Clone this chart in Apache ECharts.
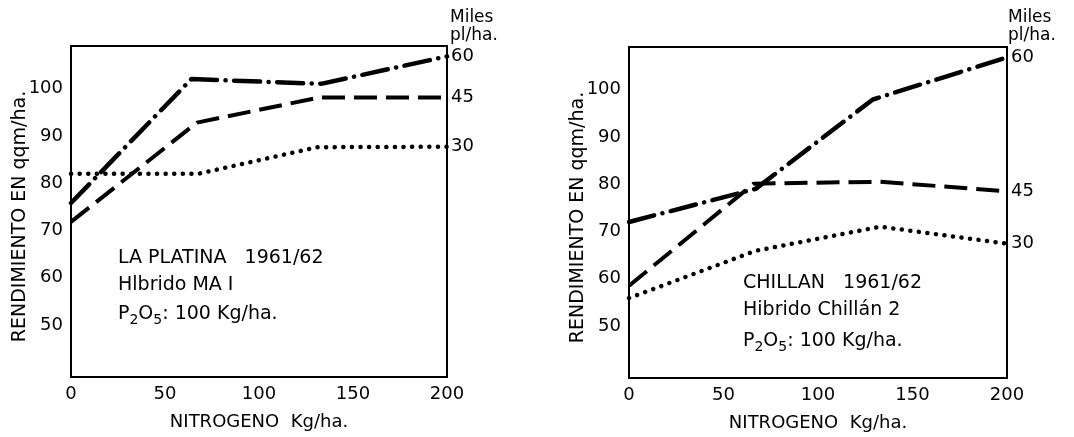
<!DOCTYPE html>
<html>
<head>
<meta charset="utf-8">
<script src="https://cdn.jsdelivr.net/npm/echarts@6/dist/echarts.min.js"></script>
<style>
  html, body { margin: 0; padding: 0; background: #fff; }
  #chart { width: 1074px; height: 437px; }
</style>
</head>
<body>
<div id="chart"></div>
<script>
// ---- data ----
const nitrogenTicks = [0, 50, 100, 150, 200];
const yieldTicks = [50, 60, 70, 80, 90, 100];
const densityNames = ['60', '45', '30'];

// La Platina 1961/62 — [N kg/ha, yield qqm/ha]
const platina60 = [[0, 75.8], [64, 102.0], [133, 101.0], [200, 106.8]];
const platina45 = [[0, 71.8], [67, 92.8], [132, 98.1], [200, 98.1]];
const platina30 = [[0, 82.0], [68, 82.0], [131, 87.6], [200, 87.7]];

// Chillán 1961/62
const chillan60 = [[0, 72.0], [67, 79.0], [129, 97.9], [200, 106.8]];
const chillan45 = [[0, 58.5], [66, 80.1], [133, 80.5], [200, 78.5]];
const chillan30 = [[0, 55.9], [67, 65.9], [133, 71.0], [200, 67.4]];

const yAxisName = 'RENDIMIENTO EN qqm/ha.';
const xAxisName = 'NITROGENO  Kg/ha.';
const densityUnit = ['Miles', 'pl/ha.'];
const platinaNotes = ['LA PLATINA   1961/62', 'Hlbrido MA I'];
const chillanNotes = ['CHILLAN   1961/62', 'Hibrido Chillán 2'];

// ---- styling ----
const FONT = 'DejaVu Sans';
const INK = '#000';

const styles = [
  { type: [26, 8.5, 0.1, 8.5], cap: 'round', width: 4.5 },   // dash-dot (60)
  { type: [23, 9], cap: 'butt', width: 4 },                  // dashed (45)
  { type: [0.1, 8.5], cap: 'round', width: 4.5 }             // dotted (30)
];

function makeSeries(data, idx, gridIdx) {
  const s = styles[idx];
  return {
    type: 'line',
    xAxisIndex: gridIdx,
    yAxisIndex: gridIdx,
    data: data,
    symbol: 'none',
    silent: true,
    animation: false,
    lineStyle: { color: INK, width: s.width, type: s.type, cap: s.cap, join: 'round' },
    endLabel: {
      show: true,
      formatter: densityNames[idx],
      color: INK,
      fontFamily: FONT,
      fontSize: 18,
      distance: 4
    }
  };
}

function xAxis(gridIdx) {
  return {
    type: 'value',
    gridIndex: gridIdx,
    min: 0, max: 200, interval: 50,
    name: xAxisName,
    nameLocation: 'middle',
    nameGap: 36,
    nameMoveOverlap: false,
    nameTextStyle: { color: INK, fontFamily: FONT, fontSize: 18 },
    axisLine: { show: true, lineStyle: { color: INK, width: 2 } },
    axisTick: { show: false },
    splitLine: { show: false },
    axisLabel: { color: INK, fontFamily: FONT, fontSize: 18, margin: 8 }
  };
}

function yAxis(gridIdx) {
  return {
    type: 'value',
    gridIndex: gridIdx,
    min: 39, max: 109,
    name: yAxisName,
    nameLocation: 'middle',
    nameRotate: 90,
    nameGap: 41,
    nameMoveOverlap: false,
    nameTextStyle: { color: INK, fontFamily: FONT, fontSize: 19, padding: [0, 0, 0, -10] },
    axisLine: { show: true, lineStyle: { color: INK, width: 2 } },
    axisTick: { show: false },
    splitLine: { show: false },
    axisLabel: { color: INK, fontFamily: FONT, fontSize: 18, margin: 8, customValues: yieldTicks }
  };
}

const rich = {
  n: { fontFamily: FONT, fontSize: 19, color: INK },
  s: { fontFamily: FONT, fontSize: 14, color: INK, padding: [12, 0, 0, 0] }
};

function noteTexts(x, ys, lines) {
  const f = '19px "' + FONT + '"';
  return [
    { type: 'text', x: x, y: ys[0], style: { text: lines[0], fill: INK, font: f, verticalAlign: 'middle' } },
    { type: 'text', x: x, y: ys[1], style: { text: lines[1], fill: INK, font: f, verticalAlign: 'middle' } },
    { type: 'text', x: x, y: ys[2] + 3, style: { text: '{n|P}{s|2}{n|O}{s|5}{n|: 100 Kg/ha.}', rich: rich, fill: INK, verticalAlign: 'middle' } }
  ];
}

function unitTexts(x) {
  const f = '17px "' + FONT + '"';
  return [
    { type: 'text', x: x, y: 18, style: { text: densityUnit[0], fill: INK, font: f, verticalAlign: 'middle' } },
    { type: 'text', x: x, y: 36, style: { text: densityUnit[1], fill: INK, font: f, verticalAlign: 'middle' } }
  ];
}

const chart = echarts.init(document.getElementById('chart'), null, { renderer: 'canvas' });
chart.setOption({
  backgroundColor: '#fff',
  animation: false,
  grid: [
    { left: 71, top: 46, width: 376, height: 331, show: true, borderColor: INK, borderWidth: 2, backgroundColor: 'transparent' },
    { left: 629, top: 47, width: 378, height: 331, show: true, borderColor: INK, borderWidth: 2, backgroundColor: 'transparent' }
  ],
  xAxis: [xAxis(0), xAxis(1)],
  yAxis: [yAxis(0), yAxis(1)],
  series: [
    makeSeries(platina60, 0, 0),
    makeSeries(platina45, 1, 0),
    makeSeries(platina30, 2, 0),
    makeSeries(chillan60, 0, 1),
    makeSeries(chillan45, 1, 1),
    makeSeries(chillan30, 2, 1)
  ],
  graphic: [].concat(
    noteTexts(118, [258, 285, 311], platinaNotes),
    noteTexts(743, [283, 310, 338], chillanNotes),
    unitTexts(450),
    unitTexts(1008)
  )
});
</script>
</body>
</html>
